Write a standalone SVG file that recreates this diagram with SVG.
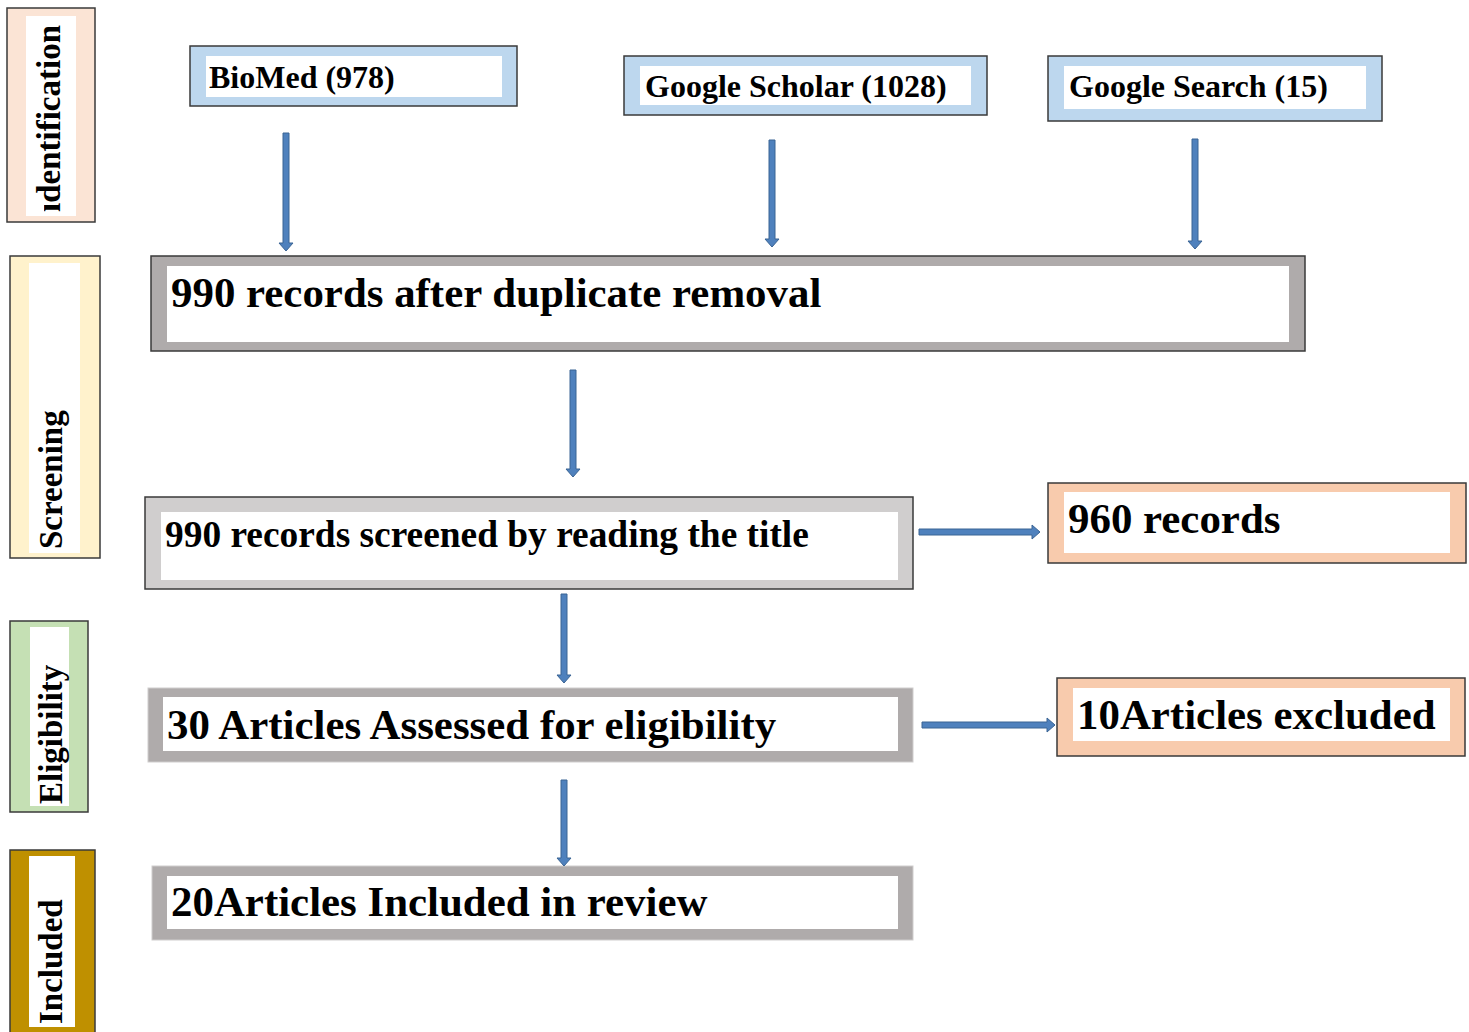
<svg xmlns="http://www.w3.org/2000/svg" width="1469" height="1032" viewBox="0 0 1469 1032">
<style>
.o{stroke:#3a3a3a;stroke-width:1.5}
.w{fill:#ffffff}
.t{font-family:"Liberation Serif","Times New Roman",serif;font-weight:bold;fill:#000}
.s{font-size:32px}
.b{font-size:42.9px}
.v{font-size:33px}
.arr{fill:#4F81BD;stroke:#3A6494;stroke-width:1}
</style>
<defs>
<clipPath id="clipId">
<rect x="26" y="16" width="50" height="182"/>
<rect x="44" y="196" width="32" height="20"/>
</clipPath>
</defs>
<rect width="1469" height="1032" fill="#ffffff"/>
<g id="stage-identification">
<rect class="o" x="7" y="8" width="88" height="214" fill="#FBE4D5"/>
<rect class="w" x="26" y="16" width="50" height="200"/>
<g clip-path="url(#clipId)">
<text class="t" font-size="33" transform="translate(60,212) rotate(-90)">identification</text>
</g>
</g>
<g id="stage-screening">
<rect class="o" x="10" y="256" width="90" height="302" fill="#FFF2CC"/>
<rect class="w" x="29" y="263" width="51" height="290"/>
<text class="t v" transform="translate(62,549) rotate(-90)">Screening</text>
</g>
<g id="stage-eligibility">
<rect class="o" x="10" y="621" width="78" height="191" fill="#C5E0B4"/>
<rect class="w" x="30" y="627" width="39" height="179"/>
<text class="t v" transform="translate(62,804) rotate(-90)">Eligibility</text>
</g>
<g id="stage-included">
<rect class="o" x="10" y="850" width="85" height="190" fill="#BF9000"/>
<rect class="w" x="29" y="856" width="46" height="171"/>
<text class="t v" transform="translate(62,1024) rotate(-90)">Included</text>
</g>
<g id="biomed">
<rect class="o" x="190" y="46" width="327" height="60" fill="#BDD7EE"/>
<rect class="w" x="206" y="56" width="296" height="41"/>
<text class="t s" x="209" y="88">BioMed (978)</text>
</g>
<g id="google-scholar">
<rect class="o" x="624" y="56" width="363" height="59" fill="#BDD7EE"/>
<rect class="w" x="640" y="66" width="331" height="39"/>
<text class="t s" x="645" y="97">Google Scholar (1028)</text>
</g>
<g id="google-search">
<rect class="o" x="1048" y="56" width="334" height="65" fill="#BDD7EE"/>
<rect class="w" x="1064" y="66" width="302" height="43"/>
<text class="t s" x="1069" y="97">Google Search (15)</text>
</g>
<g id="dedup">
<rect class="o" x="151" y="256" width="1154" height="95" fill="#AFABAB"/>
<rect class="w" x="167" y="266" width="1122" height="76"/>
<text class="t b" x="171" y="307">990 records after duplicate removal</text>
</g>
<g id="screened">
<rect class="o" x="145" y="497" width="768" height="92" fill="#D0CECE"/>
<rect class="w" x="161" y="512" width="737" height="68"/>
<text class="t" font-size="37.4" x="165" y="547">990 records screened by reading the title</text>
</g>
<g id="excluded-960">
<rect class="o" x="1048" y="483" width="418" height="80" fill="#F8CBAD"/>
<rect class="w" x="1064" y="492" width="386" height="61"/>
<text class="t b" x="1068" y="533">960 records</text>
</g>
<g id="eligibility">
<rect x="148" y="688" width="765" height="74" fill="#AFABAB" stroke="#cfcdcd" stroke-width="1"/>
<rect class="w" x="163" y="697" width="735" height="54"/>
<text class="t b" x="167" y="739">30 Articles Assessed for eligibility</text>
</g>
<g id="excluded-10">
<rect class="o" x="1057" y="678" width="408" height="78" fill="#F8CBAD"/>
<rect class="w" x="1073" y="688" width="377" height="53"/>
<text class="t b" x="1077" y="729">10Articles excluded</text>
</g>
<g id="included">
<rect x="152" y="866" width="761" height="74" fill="#AFABAB" stroke="#cfcdcd" stroke-width="1"/>
<rect class="w" x="167" y="876" width="731" height="53"/>
<text class="t b" x="171" y="916">20Articles Included in review</text>
</g>
<g id="connectors">
<polygon class="arr" points="283,133 289,133 289,243 293,243 286,251 279,243 283,243"/>
<polygon class="arr" points="769,140 775,140 775,239 779,239 772,247 765,239 769,239"/>
<polygon class="arr" points="1192,139 1198,139 1198,241 1202,241 1195,249 1188,241 1192,241"/>
<polygon class="arr" points="570,370 576,370 576,469 580,469 573,477 566,469 570,469"/>
<polygon class="arr" points="561,594 567,594 567,675 571,675 564,683 557,675 561,675"/>
<polygon class="arr" points="561,780 567,780 567,858 571,858 564,866 557,858 561,858"/>
<polygon class="arr" points="919,529 1032,529 1032,525 1040,532 1032,539 1032,535 919,535"/>
<polygon class="arr" points="922,722 1047,722 1047,718 1055,725 1047,732 1047,728 922,728"/>
</g>
</svg>
